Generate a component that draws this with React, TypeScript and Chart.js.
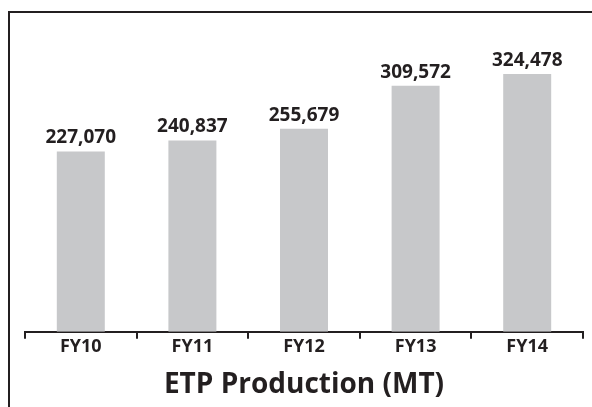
import React, { useEffect, useRef } from "react";
import { Chart, registerables } from "chart.js";

Chart.register(...registerables);

const categories = ["FY10", "FY11", "FY12", "FY13", "FY14"];
const production = [227070, 240837, 255679, 309572, 324478];
const valueLabels = ["227,070", "240,837", "255,679", "309,572", "324,478"];
const chartTitle = "ETP Production (MT)";

const INK = "#231f20";
const FONT = "'Open Sans', 'DejaVu Sans', sans-serif";

const valueLabelPlugin = {
  id: "valueLabels",
  afterDatasetsDraw(chart: any) {
    const ctx = chart.ctx;
    const meta = chart.getDatasetMeta(0);
    ctx.save();
    ctx.fillStyle = INK;
    ctx.font = `bold 19px ${FONT}`;
    ctx.textAlign = "center";
    ctx.textBaseline = "alphabetic";
    meta.data.forEach((el: any, i: number) => {
      ctx.fillText(valueLabels[i], el.x, el.y - 8);
    });
    ctx.restore();
  },
};

export default function App() {
  const ref = useRef<HTMLCanvasElement | null>(null);
  useEffect(() => {
    if (!ref.current) return;
    const chart = new Chart(ref.current, {
      type: "bar",
      data: {
        labels: categories,
        datasets: [
          {
            data: production,
            backgroundColor: "#c7c8ca",
            barPercentage: 0.43,
            categoryPercentage: 1,
          },
        ],
      },
      options: {
        animation: false,
        responsive: false,
        maintainAspectRatio: false,
        layout: { padding: { left: 25, right: 9, top: 14, bottom: 5 } },
        plugins: {
          legend: { display: false },
          tooltip: { enabled: false },
          title: {
            display: true,
            position: "bottom",
            text: chartTitle,
            color: INK,
            font: { family: FONT, size: 28, weight: "bold" },
            padding: { top: 14, bottom: 0 },
          },
        },
        scales: {
          x: {
            grid: {
              display: true,
              drawOnChartArea: false,
              drawTicks: true,
              tickLength: 7,
              offset: true,
              color: INK,
              lineWidth: 2,
            },
            border: { display: true, color: INK, width: 2 },
            ticks: {
              color: INK,
              font: { family: FONT, size: 18, weight: "bold" },
              padding: -3,
            },
          },
          y: {
            display: false,
            min: 0,
            max: 400000,
          },
        },
      },
      plugins: [valueLabelPlugin],
    });
    return () => chart.destroy();
  }, []);
  return (
    <div style={{ position: "absolute", left: 0, top: 0, width: 592, height: 407, background: "#fff", overflow: "hidden" }}>
      <div
        style={{
          position: "absolute",
          left: 8,
          top: 11,
          width: 600,
          height: 420,
          borderLeft: `2px solid ${INK}`,
          borderTop: `2px solid ${INK}`,
          boxSizing: "border-box",
        }}
      />
      <canvas ref={ref} width={592} height={407} style={{ position: "absolute", left: 0, top: 0 }} />
    </div>
  );
}
